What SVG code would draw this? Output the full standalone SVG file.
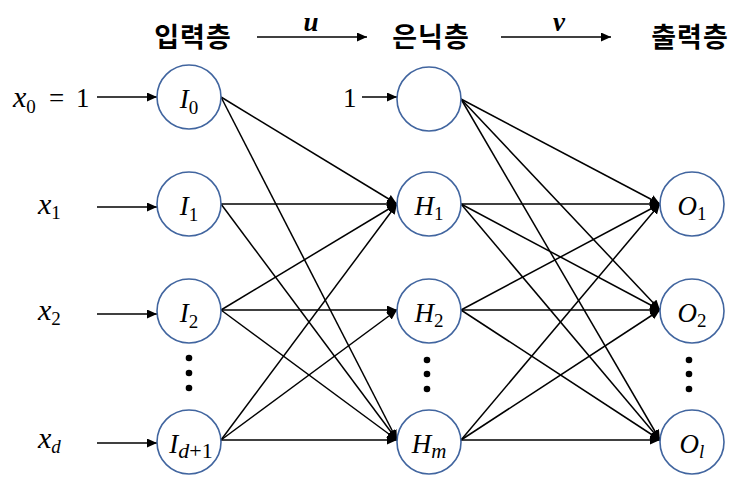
<svg xmlns="http://www.w3.org/2000/svg" width="738" height="488" viewBox="0 0 738 488">
<defs>
<marker id="ah" markerWidth="12" markerHeight="10" refX="10" refY="4.5" orient="auto" markerUnits="userSpaceOnUse">
<path d="M0,0 L10,4.5 L0,9 Z" fill="#000"/>
</marker>
<style>
.node{fill:#fff;stroke:#41659f;stroke-width:1.6}
.c{stroke:#000;stroke-width:1.5;fill:none;marker-end:url(#ah)}
.hd{font-family:"Noto Sans CJK KR","Noto Sans",sans-serif;font-weight:700;font-size:27px;letter-spacing:1px;fill:#000}
.m{font-family:"Liberation Serif","DejaVu Serif",serif;font-size:27px;fill:#000}
.x{font-size:30px}
.i{font-style:italic}
.s{font-size:19px}
.dot{fill:#000}
</style>
</defs>
<rect width="738" height="488" fill="#fff"/>

<g id="headers">
<text class="hd" x="193" y="47" text-anchor="middle">입력층</text>
<text class="hd" x="431" y="47" text-anchor="middle">은닉층</text>
<text class="hd" x="690" y="47" text-anchor="middle">출력층</text>
<text class="m i" x="311" y="31" text-anchor="middle" font-weight="700" font-size="28">u</text>
<text class="m i" x="559" y="31" text-anchor="middle" font-weight="700" font-size="28">v</text>
</g>

<g id="inputs">
<text class="m x" x="13" y="107"><tspan class="i">x</tspan><tspan class="s" dy="6">0</tspan></text>
<text class="m" x="49" y="107" font-size="31">=</text>
<text class="m" x="76" y="107" font-size="29">1</text>
<text class="m x" x="38" y="214"><tspan class="i">x</tspan><tspan class="s" dy="5">1</tspan></text>
<text class="m x" x="38" y="320"><tspan class="i">x</tspan><tspan class="s" dy="5">2</tspan></text>
<text class="m x" x="38" y="448"><tspan class="i">x</tspan><tspan class="s i" dy="5">d</tspan></text>
<text class="m" x="343" y="107" font-size="29">1</text>
</g>

<g id="connectors">
<line class="c" x1="257" y1="37" x2="367" y2="37"/>
<line class="c" x1="501" y1="37" x2="611" y2="37"/>
<line class="c" x1="97" y1="97" x2="157" y2="97"/>
<line class="c" x1="97" y1="207" x2="157" y2="207"/>
<line class="c" x1="97" y1="314" x2="157" y2="314"/>
<line class="c" x1="97" y1="443" x2="157" y2="443"/>
<line class="c" x1="362" y1="97" x2="397" y2="97"/>
<line class="c" x1="221" y1="97" x2="397" y2="204"/>
<line class="c" x1="221" y1="97" x2="397" y2="440"/>
<line class="c" x1="221" y1="204" x2="397" y2="204"/>
<line class="c" x1="221" y1="204" x2="397" y2="440"/>
<line class="c" x1="221" y1="310" x2="397" y2="204"/>
<line class="c" x1="221" y1="310" x2="397" y2="310"/>
<line class="c" x1="221" y1="310" x2="397" y2="440"/>
<line class="c" x1="221" y1="440" x2="397" y2="204"/>
<line class="c" x1="221" y1="440" x2="397" y2="310"/>
<line class="c" x1="221" y1="440" x2="397" y2="440"/>
<line class="c" x1="461" y1="99" x2="660" y2="204"/>
<line class="c" x1="461" y1="99" x2="660" y2="310"/>
<line class="c" x1="461" y1="99" x2="660" y2="440"/>
<line class="c" x1="461" y1="204" x2="660" y2="204"/>
<line class="c" x1="461" y1="204" x2="660" y2="310"/>
<line class="c" x1="461" y1="204" x2="660" y2="440"/>
<line class="c" x1="461" y1="310" x2="660" y2="204"/>
<line class="c" x1="461" y1="310" x2="660" y2="310"/>
<line class="c" x1="461" y1="310" x2="660" y2="440"/>
<line class="c" x1="461" y1="440" x2="660" y2="204"/>
<line class="c" x1="461" y1="440" x2="660" y2="310"/>
<line class="c" x1="461" y1="440" x2="660" y2="440"/>
</g>

<g id="I0"><circle class="node" cx="189" cy="97" r="32"/><text class="m" x="189" y="108" text-anchor="middle"><tspan class="i">I</tspan><tspan class="s" dy="6">0</tspan></text></g>
<g id="I1"><circle class="node" cx="189" cy="204" r="32"/><text class="m" x="189" y="215" text-anchor="middle"><tspan class="i">I</tspan><tspan class="s" dy="6">1</tspan></text></g>
<g id="I2"><circle class="node" cx="189" cy="311" r="32"/><text class="m" x="189" y="322" text-anchor="middle"><tspan class="i">I</tspan><tspan class="s" dy="6">2</tspan></text></g>
<g id="Id1"><circle class="node" cx="189" cy="442" r="32"/><text class="m" x="191" y="453" text-anchor="middle"><tspan class="i">I</tspan><tspan class="i" dy="5" font-size="22">d</tspan><tspan font-size="22">+1</tspan></text></g>

<g id="Hb"><circle class="node" cx="429" cy="99" r="32"/></g>
<g id="H1"><circle class="node" cx="429" cy="204" r="32"/><text class="m" x="429" y="215" text-anchor="middle"><tspan class="i">H</tspan><tspan class="s" dy="5">1</tspan></text></g>
<g id="H2"><circle class="node" cx="429" cy="311" r="32"/><text class="m" x="429" y="322" text-anchor="middle"><tspan class="i">H</tspan><tspan class="s" dy="5">2</tspan></text></g>
<g id="Hm"><circle class="node" cx="429" cy="442" r="32"/><text class="m" x="429" y="453" text-anchor="middle"><tspan class="i">H</tspan><tspan class="i" dy="5" font-size="21">m</tspan></text></g>

<g id="O1"><circle class="node" cx="692" cy="204" r="32"/><text class="m" x="692" y="215" text-anchor="middle"><tspan class="i">O</tspan><tspan class="s" dy="5">1</tspan></text></g>
<g id="O2"><circle class="node" cx="692" cy="311" r="32"/><text class="m" x="692" y="322" text-anchor="middle"><tspan class="i">O</tspan><tspan class="s" dy="5">2</tspan></text></g>
<g id="Ol"><circle class="node" cx="692" cy="442" r="32"/><text class="m" x="692" y="453" text-anchor="middle"><tspan class="i">O</tspan><tspan class="s i" dy="5">l</tspan></text></g>

<g id="ellipses">
<circle class="dot" cx="189" cy="358" r="3.3"/><circle class="dot" cx="189" cy="373" r="3.3"/><circle class="dot" cx="189" cy="388" r="3.3"/>
<circle class="dot" cx="427" cy="360" r="3.3"/><circle class="dot" cx="427" cy="374" r="3.3"/><circle class="dot" cx="427" cy="389" r="3.3"/>
<circle class="dot" cx="689" cy="360" r="3.3"/><circle class="dot" cx="689" cy="374" r="3.3"/><circle class="dot" cx="689" cy="389" r="3.3"/>
</g>
</svg>
